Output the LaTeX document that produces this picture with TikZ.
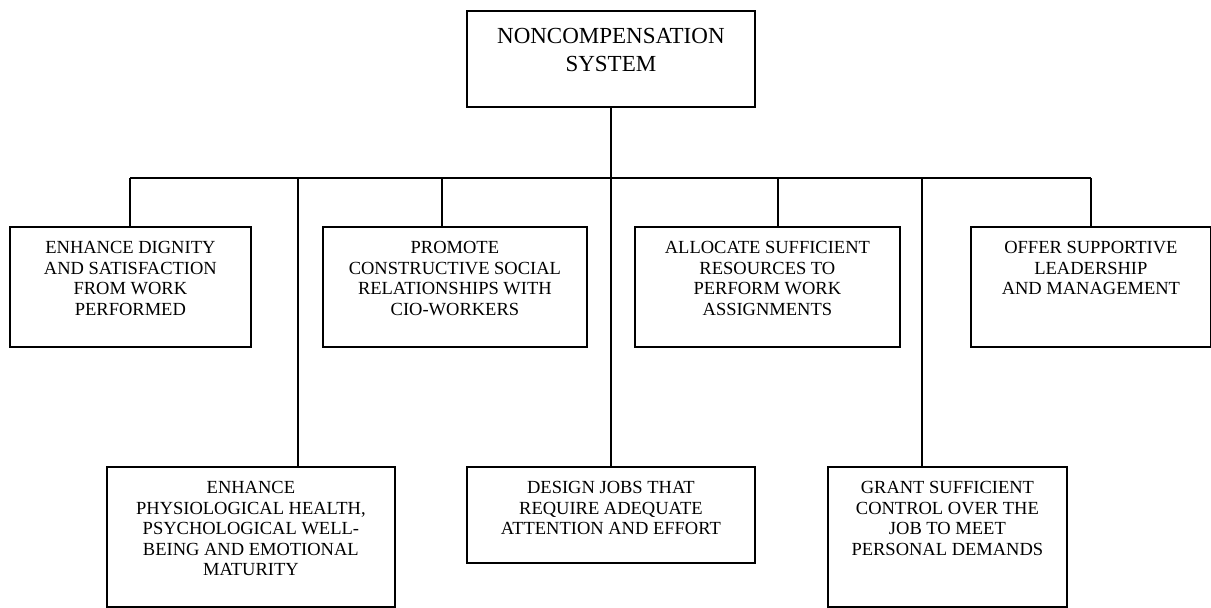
\documentclass[tikz,border=0pt]{standalone}
\usepackage{fontspec}
\setmainfont{Liberation Serif}
\newcommand{\boxtext}[3]{\parbox[t][#2][t]{#1}{\centering\fontsize{18.5}{20.5}\selectfont\rule{0pt}{27pt}#3}}
\newcommand{\toptext}[3]{\parbox[t][#2][t]{#1}{\centering\fontsize{23}{28}\selectfont\rule{0pt}{33pt}#3}}
\tikzset{
  boxnode/.style={draw, line width=1.8pt, inner sep=0pt, anchor=north west},
  link/.style={line width=1.8pt}
}
\begin{document}
\begin{tikzpicture}[x=1pt,y=-1pt]
\useasboundingbox (0,0) rectangle (1211,608);
\node[boxnode] (top) at (466,10) {\toptext{288pt}{96pt}{NONCOMPENSATION\\SYSTEM}};
\node[boxnode] (b1) at (9,226) {\boxtext{241pt}{120pt}{ENHANCE DIGNITY\\AND SATISFACTION\\FROM WORK\\PERFORMED}};
\node[boxnode] (b2) at (322,226) {\boxtext{264pt}{120pt}{PROMOTE\\CONSTRUCTIVE SOCIAL\\RELATIONSHIPS WITH\\CIO-WORKERS}};
\node[boxnode] (b3) at (634,226) {\boxtext{265pt}{120pt}{ALLOCATE SUFFICIENT\\RESOURCES TO\\PERFORM WORK\\ASSIGNMENTS}};
\node[boxnode] (b4) at (970,226) {\boxtext{240pt}{120pt}{OFFER SUPPORTIVE\\LEADERSHIP\\AND MANAGEMENT}};
\node[boxnode] (b5) at (106,466) {\boxtext{288pt}{140pt}{ENHANCE\\PHYSIOLOGICAL HEALTH,\\PSYCHOLOGICAL WELL-\\BEING AND EMOTIONAL\\MATURITY}};
\node[boxnode] (b6) at (466,466) {\boxtext{288pt}{96pt}{DESIGN JOBS THAT\\REQUIRE ADEQUATE\\ATTENTION AND EFFORT}};
\node[boxnode] (b7) at (827,466) {\boxtext{239pt}{140pt}{GRANT SUFFICIENT\\CONTROL OVER THE\\JOB TO MEET\\PERSONAL DEMANDS}};
\coordinate (j1) at (130,178);
\coordinate (j2) at (442,178);
\coordinate (j3) at (778,178);
\coordinate (j4) at (1091,178);
\coordinate (j5) at (298,178);
\coordinate (j7) at (922,178);
\draw[link] (top.south) -- (b6.north);
\draw[link] (j1) -- (j4);
\draw[link] (j1) -- (j1 |- b1.north);
\draw[link] (j2) -- (j2 |- b2.north);
\draw[link] (j3) -- (j3 |- b3.north);
\draw[link] (j4) -- (j4 |- b4.north);
\draw[link] (j5) -- (j5 |- b5.north);
\draw[link] (j7) -- (j7 |- b7.north);
\end{tikzpicture}
\end{document}
